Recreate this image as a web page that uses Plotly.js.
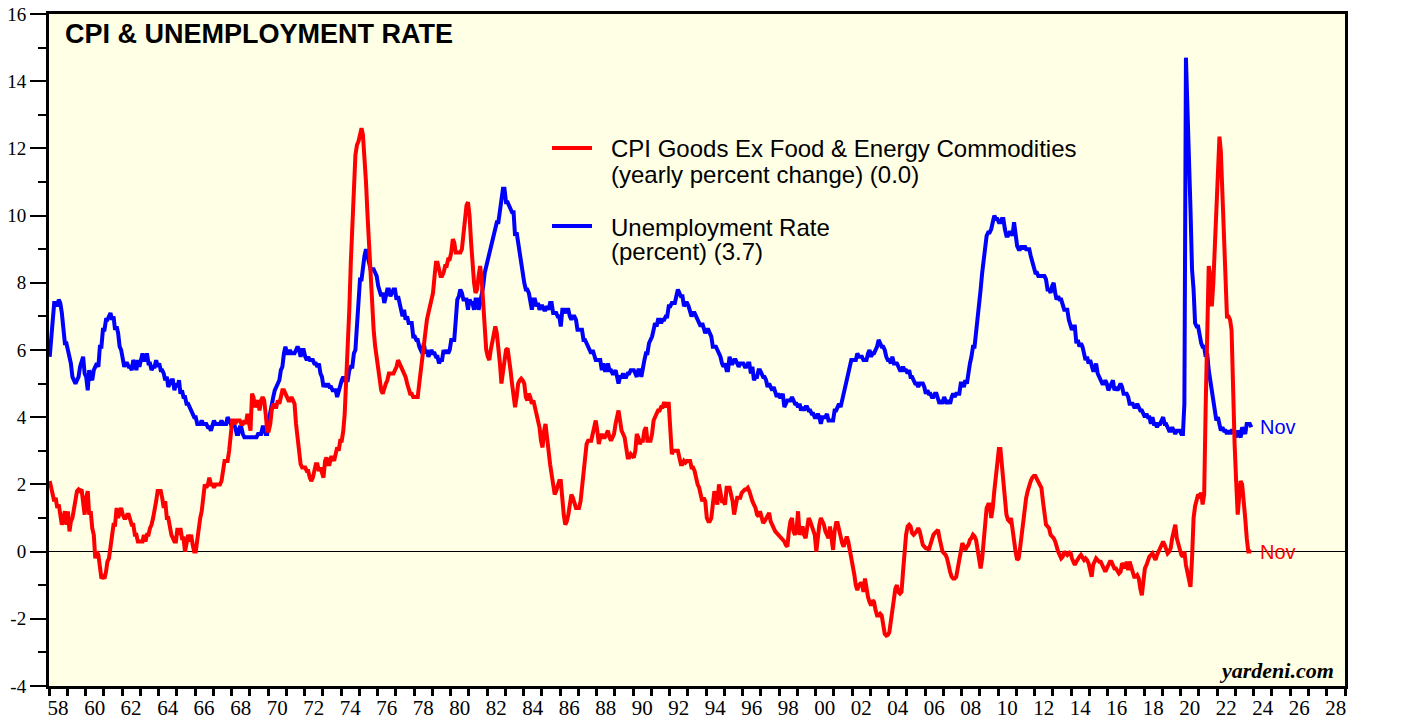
<!DOCTYPE html>
<html>
<head>
<meta charset="utf-8">
<script src="https://cdn.plot.ly/plotly-3.0.1.min.js"></script>
<style>
  html, body { margin: 0; padding: 0; background: #ffffff; }
  #chart { width: 1405px; height: 717px; }
</style>
</head>
<body>
<div id="chart"></div>
<script>
// ---------------- DATA (monthly, Jan 1958 .. Nov 2023) ----------------
const startYear = 1958;

// Unemployment Rate (percent)
const unemploymentRate = [
  5.8,6.4,6.7,7.4,7.4,7.3,7.5,7.4,7.1,6.7,6.2,6.2,
  6.0,5.9,5.6,5.2,5.1,5.0,5.1,5.2,5.5,5.7,5.8,5.3,
  5.2,4.8,5.4,5.2,5.1,5.4,5.5,5.6,5.5,6.1,6.1,6.6,
  6.6,6.9,6.9,7.0,7.1,6.9,7.0,6.6,6.7,6.5,6.1,6.0,
  5.8,5.5,5.6,5.6,5.5,5.5,5.4,5.7,5.6,5.4,5.7,5.5,
  5.7,5.9,5.7,5.7,5.9,5.6,5.6,5.4,5.5,5.5,5.7,5.5,
  5.6,5.4,5.4,5.3,5.1,5.2,4.9,5.0,5.1,5.1,4.8,5.0,
  4.9,5.1,4.7,4.8,4.6,4.6,4.4,4.4,4.3,4.2,4.1,4.0,
  4.0,3.8,3.8,3.8,3.9,3.8,3.8,3.8,3.7,3.7,3.6,3.8,
  3.9,3.8,3.8,3.8,3.8,3.9,3.8,3.8,3.8,4.0,3.9,3.8,
  3.7,3.8,3.7,3.5,3.5,3.7,3.7,3.5,3.4,3.4,3.4,3.4,
  3.4,3.4,3.4,3.4,3.4,3.5,3.5,3.5,3.7,3.7,3.5,3.5,
  3.9,4.2,4.4,4.6,4.8,4.9,5.0,5.1,5.4,5.5,5.9,6.1,
  5.9,5.9,6.0,5.9,5.9,5.9,6.0,6.1,6.0,5.8,6.0,6.0,
  5.8,5.7,5.8,5.7,5.7,5.7,5.6,5.6,5.5,5.6,5.3,5.2,
  4.9,5.0,4.9,5.0,4.9,4.9,4.8,4.8,4.8,4.6,4.8,4.9,
  5.1,5.2,5.1,5.1,5.1,5.4,5.5,5.5,5.9,6.0,6.6,7.2,
  8.1,8.1,8.6,8.8,9.0,8.8,8.6,8.4,8.4,8.4,8.3,8.2,
  7.9,7.7,7.6,7.7,7.4,7.6,7.8,7.8,7.6,7.7,7.8,7.8,
  7.5,7.6,7.4,7.2,7.0,7.2,6.9,7.0,6.8,6.8,6.8,6.4,
  6.4,6.3,6.3,6.1,6.0,5.9,6.2,5.9,6.0,5.8,5.9,6.0,
  5.9,5.9,5.8,5.8,5.6,5.7,5.7,6.0,5.9,6.0,5.9,6.0,
  6.3,6.3,6.3,6.9,7.5,7.6,7.8,7.7,7.5,7.5,7.5,7.2,
  7.5,7.4,7.4,7.2,7.5,7.5,7.2,7.4,7.6,7.9,8.3,8.5,
  8.6,8.9,9.0,9.3,9.4,9.6,9.8,9.8,10.1,10.4,10.8,10.8,
  10.4,10.4,10.3,10.2,10.1,10.1,9.4,9.5,9.2,8.8,8.5,8.3,
  8.0,7.8,7.8,7.7,7.4,7.2,7.5,7.5,7.3,7.4,7.2,7.3,
  7.3,7.2,7.2,7.3,7.2,7.4,7.4,7.1,7.1,7.1,7.0,7.0,
  6.7,7.2,7.2,7.1,7.2,7.2,7.0,6.9,7.0,7.0,6.9,6.6,
  6.6,6.6,6.6,6.3,6.3,6.2,6.1,6.0,5.9,6.0,5.8,5.7,
  5.7,5.7,5.7,5.4,5.6,5.4,5.4,5.6,5.4,5.4,5.3,5.3,
  5.4,5.2,5.0,5.2,5.2,5.3,5.2,5.2,5.3,5.3,5.4,5.4,
  5.4,5.3,5.2,5.4,5.4,5.2,5.5,5.7,5.9,5.9,6.2,6.3,
  6.4,6.6,6.8,6.7,6.9,6.9,6.8,6.9,6.9,7.0,7.0,7.3,
  7.3,7.4,7.4,7.4,7.6,7.8,7.7,7.6,7.6,7.3,7.4,7.4,
  7.3,7.1,7.0,7.1,7.1,7.0,6.9,6.8,6.7,6.8,6.6,6.5,
  6.6,6.6,6.5,6.4,6.1,6.1,6.1,6.0,5.9,5.8,5.6,5.5,
  5.6,5.4,5.4,5.8,5.6,5.6,5.7,5.7,5.6,5.5,5.6,5.6,
  5.6,5.5,5.5,5.6,5.6,5.3,5.5,5.1,5.2,5.2,5.4,5.4,
  5.3,5.2,5.2,5.1,4.9,5.0,4.9,4.8,4.9,4.7,4.6,4.7,
  4.6,4.6,4.7,4.3,4.4,4.5,4.5,4.5,4.6,4.5,4.4,4.4,
  4.3,4.4,4.2,4.3,4.2,4.3,4.3,4.2,4.2,4.1,4.1,4.0,
  4.0,4.1,4.0,3.8,4.0,4.0,4.0,4.1,3.9,3.9,3.9,3.9,
  4.2,4.2,4.3,4.4,4.3,4.5,4.6,4.9,5.0,5.3,5.5,5.7,
  5.7,5.7,5.7,5.9,5.8,5.8,5.8,5.7,5.7,5.7,5.9,6.0,
  5.8,5.9,5.9,6.0,6.1,6.3,6.2,6.1,6.1,6.0,5.8,5.7,
  5.7,5.6,5.8,5.6,5.6,5.6,5.5,5.4,5.4,5.5,5.4,5.4,
  5.3,5.4,5.2,5.2,5.1,5.0,5.0,4.9,5.0,5.0,5.0,4.9,
  4.7,4.8,4.7,4.7,4.6,4.6,4.7,4.7,4.5,4.4,4.5,4.4,
  4.6,4.5,4.4,4.5,4.4,4.6,4.7,4.6,4.7,4.7,4.7,5.0,
  5.0,4.9,5.1,5.0,5.4,5.6,5.8,6.1,6.1,6.5,6.8,7.3,
  7.8,8.3,8.7,9.0,9.4,9.5,9.5,9.6,9.8,10.0,9.9,9.9,
  9.8,9.8,9.9,9.9,9.6,9.4,9.4,9.5,9.5,9.4,9.8,9.3,
  9.1,9.0,9.0,9.1,9.0,9.1,9.0,9.0,9.0,8.8,8.6,8.5,
  8.3,8.3,8.2,8.2,8.2,8.2,8.2,8.1,7.8,7.8,7.7,7.9,
  8.0,7.7,7.5,7.6,7.5,7.5,7.3,7.2,7.2,7.2,6.9,6.7,
  6.6,6.7,6.7,6.2,6.3,6.1,6.2,6.1,5.9,5.7,5.8,5.6,
  5.7,5.5,5.4,5.4,5.6,5.3,5.2,5.1,5.0,5.0,5.1,5.0,
  4.8,4.9,5.0,5.1,4.8,4.9,4.8,4.9,5.0,4.9,4.7,4.7,
  4.7,4.6,4.4,4.4,4.4,4.3,4.3,4.4,4.3,4.2,4.2,4.1,
  4.0,4.1,4.0,4.0,3.8,4.0,3.8,3.8,3.7,3.8,3.8,3.9,
  4.0,3.8,3.8,3.7,3.6,3.6,3.7,3.6,3.5,3.6,3.6,3.6,
  3.5,3.5,4.4,14.7,13.2,11.0,10.2,8.4,7.8,6.8,6.7,6.7,
  6.4,6.2,6.1,6.1,5.8,5.9,5.4,5.1,4.7,4.5,4.2,3.9,
  4.0,3.8,3.6,3.7,3.6,3.6,3.5,3.6,3.5,3.6,3.6,3.5,
  3.4,3.6,3.5,3.4,3.7,3.6,3.5,3.8,3.8,3.8,3.7
];

// CPI Goods ex Food & Energy Commodities (yearly percent change)
const cpiCoreGoods = [
  2.1,1.9,1.6,1.5,1.6,1.3,1.4,1.1,0.8,1.0,1.2,0.8,
  1.2,0.6,0.9,1.0,1.3,1.5,1.8,1.85,1.8,1.85,1.5,1.1,
  1.6,1.8,1.1,1.2,0.7,0.5,-0.2,0.0,-0.1,-0.5,-0.8,-0.75,
  -0.8,-0.6,-0.3,-0.2,0.1,0.6,0.8,0.8,1.3,1.0,1.2,1.3,
  1.1,1.0,1.0,1.1,1.1,0.9,0.8,0.8,0.5,0.5,0.3,0.3,
  0.3,0.3,0.5,0.3,0.5,0.5,0.7,0.8,1.0,1.2,1.5,1.8,
  1.8,1.8,1.6,1.3,1.5,1.0,1.0,0.7,0.5,0.4,0.3,0.3,
  0.7,0.5,0.7,0.4,0.4,0.0,0.3,0.5,0.3,0.5,0.2,0.0,
  0.0,0.4,0.6,1.0,1.2,1.8,2.0,1.9,2.0,2.2,2.0,2.0,
  1.9,2.0,2.0,2.0,2.0,2.1,2.4,2.7,2.7,2.7,3.0,3.4,
  3.9,3.9,3.8,3.9,3.9,3.9,3.8,3.8,3.9,3.8,4.1,3.8,
  3.6,4.7,4.6,4.3,4.4,4.5,4.2,4.5,4.6,4.5,4.1,3.6,
  3.6,3.8,4.2,4.4,4.3,4.3,4.5,4.4,4.6,4.8,4.8,4.7,
  4.6,4.5,4.5,4.6,4.5,4.4,3.8,3.4,3.0,2.6,2.5,2.5,
  2.5,2.4,2.4,2.2,2.1,2.2,2.4,2.6,2.6,2.4,2.5,2.3,
  2.2,2.7,2.8,2.6,2.6,2.8,2.8,2.7,3.0,3.1,3.0,3.3,
  3.3,3.6,4.1,5.0,5.9,7.2,8.6,9.8,11.2,11.8,12.1,12.2,
  12.4,12.6,12.4,11.8,11.0,10.0,9.0,8.0,7.2,6.6,6.1,5.8,
  5.6,5.2,4.8,4.7,4.9,5.0,5.1,5.3,5.3,5.3,5.3,5.4,
  5.5,5.7,5.6,5.5,5.4,5.3,5.2,5.0,4.8,4.7,4.7,4.6,
  4.6,4.6,4.6,5.0,5.4,5.8,6.1,6.5,6.9,7.1,7.3,7.6,
  7.7,8.2,8.6,8.6,8.4,8.2,8.2,8.3,8.5,8.5,8.7,8.7,
  8.9,9.3,9.2,8.9,8.9,8.9,8.9,9.0,9.4,9.8,10.3,10.4,
  10.0,9.2,8.5,8.0,7.7,7.8,8.2,8.5,8.1,7.3,6.5,6.0,
  5.8,5.7,6.0,6.3,6.5,6.7,6.5,6.1,5.6,5.0,5.4,5.7,
  6.0,6.05,5.8,5.4,5.0,4.5,4.3,4.6,5.0,5.1,5.15,5.1,
  5.0,4.6,4.5,4.7,4.6,4.4,4.5,4.3,4.1,3.9,3.7,3.3,
  3.1,3.6,3.8,3.4,2.9,2.6,2.3,2.0,1.7,1.8,2.0,2.1,
  2.1,1.5,1.1,0.8,0.9,1.1,1.5,1.7,1.6,1.4,1.3,1.3,
  1.3,1.5,1.9,2.6,3.0,3.2,3.3,3.3,3.3,3.5,3.8,3.9,
  3.6,3.2,3.4,3.5,3.4,3.4,3.5,3.6,3.4,3.3,3.4,3.5,
  3.8,4.1,4.2,3.9,3.6,3.5,3.4,3.1,2.8,2.8,2.9,2.85,
  2.8,3.0,3.5,3.4,3.2,3.3,3.3,3.6,3.7,3.3,3.3,3.3,
  3.5,3.9,4.0,4.1,4.2,4.2,4.3,4.3,4.45,4.3,4.4,4.4,
  3.8,2.9,3.0,3.0,3.0,3.0,2.8,2.6,2.6,2.7,2.65,2.7,
  2.7,2.7,2.5,2.5,2.4,2.1,2.0,1.9,1.7,1.5,1.6,1.5,
  1.0,0.9,0.9,1.0,1.4,1.8,1.6,1.4,2.0,1.7,1.5,1.5,
  1.4,1.9,1.9,1.9,1.7,1.5,1.1,1.3,1.6,1.6,1.6,1.75,
  1.8,1.85,1.85,1.9,1.8,1.6,1.5,1.4,1.3,1.1,1.05,1.2,
  1.0,0.85,0.9,1.0,1.1,1.15,0.9,0.75,0.7,0.6,0.55,0.5,
  0.45,0.4,0.35,0.3,0.2,0.15,0.6,0.9,1.0,0.6,0.5,0.65,
  1.2,0.5,0.6,0.75,0.5,0.4,0.7,1.0,0.9,0.75,0.6,0.5,
  0.0,0.5,0.8,1.0,0.9,0.8,0.6,0.45,0.4,0.75,0.3,0.05,
  0.6,0.85,0.85,0.65,0.4,0.25,0.15,0.3,0.45,0.3,0.05,-0.05,
  -0.3,-0.7,-1.0,-1.15,-1.0,-0.95,-0.95,-1.2,-0.8,-1.1,-1.35,-1.5,
  -1.6,-1.45,-1.5,-1.75,-1.9,-1.9,-1.85,-1.9,-2.2,-2.45,-2.5,-2.48,
  -2.4,-2.1,-1.7,-1.5,-1.1,-1.0,-1.2,-1.25,-1.2,-0.6,0.0,0.5,
  0.75,0.8,0.75,0.55,0.5,0.55,0.6,0.7,0.6,0.4,0.2,0.15,
  0.1,0.1,0.05,0.2,0.35,0.5,0.55,0.6,0.65,0.4,0.2,0.0,
  -0.05,-0.1,-0.2,-0.5,-0.6,-0.75,-0.8,-0.8,-0.75,-0.5,-0.2,0.1,
  0.25,0.15,0.05,0.15,0.2,0.35,0.4,0.5,0.45,0.35,0.0,-0.3,
  -0.5,-0.2,0.2,0.9,1.3,1.4,1.4,1.0,1.3,1.8,2.3,2.7,
  3.05,3.05,2.6,2.0,1.4,1.1,0.95,0.9,1.0,0.6,0.3,0.0,
  -0.25,-0.2,0.1,0.5,0.9,1.3,1.6,1.8,2.0,2.1,2.2,2.25,
  2.25,2.15,2.05,2.0,1.9,1.5,1.0,0.8,0.75,0.7,0.5,0.45,
  0.4,0.3,0.1,0.0,-0.1,-0.2,-0.15,0.0,-0.05,-0.1,-0.05,0.0,
  -0.2,-0.3,-0.4,-0.3,-0.2,-0.15,-0.1,-0.2,-0.25,-0.2,-0.25,-0.35,
  -0.6,-0.75,-0.4,-0.25,-0.2,-0.25,-0.3,-0.3,-0.4,-0.5,-0.6,-0.5,
  -0.4,-0.3,-0.3,-0.4,-0.5,-0.5,-0.6,-0.65,-0.6,-0.35,-0.4,-0.5,
  -0.3,-0.55,-0.3,-0.5,-0.6,-0.75,-0.75,-0.7,-0.8,-1.1,-1.3,-0.9,
  -0.5,-0.4,-0.25,-0.15,-0.1,-0.05,-0.15,-0.25,-0.1,0.0,0.05,0.2,
  0.3,0.2,0.1,-0.05,0.0,0.1,0.4,0.6,0.8,0.4,0.2,0.05,
  -0.1,-0.15,0.0,-0.4,-0.6,-0.85,-1.05,-0.2,1.0,1.35,1.6,1.7,
  1.65,1.75,1.4,1.7,4.3,7.0,8.5,8.2,7.3,8.0,9.3,10.4,
  11.4,12.35,11.9,10.6,9.0,7.6,7.0,7.0,6.9,6.6,4.5,3.2,
  2.1,1.1,1.6,2.1,2.0,1.6,1.0,0.4,0.0,0.0,0.0
];

// axis labels
const yTickValues = [-4,-2,0,2,4,6,8,10,12,14,16];
const yTickText = yTickValues.map(v => String(v));   // plain hyphen minus, as in the original
const xLabelYears = [];
for (let y = 1958; y <= 2028; y += 2) xLabelYears.push(y);
const xTickText = xLabelYears.map(y => String(y % 100).padStart(2, '0'));

const latestMonth = 'Nov';
const cpiLabel = ['CPI Goods Ex Food &amp; Energy Commodities', '(yearly percent change) (0.0)'];
const unempLabel = ['Unemployment Rate', '(percent) (3.7)'];
const chartTitle = 'CPI &amp; UNEMPLOYMENT RATE';
const sourceText = 'yardeni.com';

// ---------------- BUILD ----------------
function monthDates(n) {
  const out = [];
  for (let i = 0; i < n; i++) {
    const y = startYear + Math.floor(i / 12);
    const m = (i % 12) + 1;
    out.push(y + '-' + String(m).padStart(2, '0') + '-15');
  }
  return out;
}

const SANS = 'Liberation Sans';
const SERIF = 'Liberation Serif';

const traces = [
  {
    x: monthDates(unemploymentRate.length), y: unemploymentRate,
    type: 'scatter', mode: 'lines', name: 'Unemployment Rate',
    line: { color: '#0000ff', width: 4 }, hoverinfo: 'skip'
  },
  {
    x: monthDates(cpiCoreGoods.length), y: cpiCoreGoods,
    type: 'scatter', mode: 'lines', name: 'CPI Goods Ex Food & Energy Commodities',
    line: { color: '#ff0000', width: 4 }, hoverinfo: 'skip'
  }
];

const W = 1405, H = 717, ML = 49, MR = 60, MT = 14, MB = 31;
const PW = W - ML - MR, PH = H - MT - MB;
const px = x => (x - ML) / PW;
const py = y => (H - MB - y) / PH;

const yAxisCommon = {
  range: [-4, 16], tickmode: 'array', tickvals: yTickValues, ticktext: yTickText,
  ticks: 'outside', ticklen: 16, tickwidth: 2, tickcolor: '#000',
  minor: { tickmode: 'linear', tick0: -3, dtick: 2, ticks: 'outside', ticklen: 8, tickwidth: 2, tickcolor: '#000', showgrid: false },
  tickfont: { family: SERIF, size: 19, color: '#000' },
  showgrid: false, fixedrange: true
};

const lastIdx = unemploymentRate.length - 1;

const layout = {
  width: W, height: H,
  margin: { l: ML, r: MR, t: MT, b: MB, pad: 0 },
  paper_bgcolor: '#ffffff', plot_bgcolor: '#ffffe6',
  showlegend: false,
  xaxis: {
    type: 'date', range: ['1958-01-01', '2029-01-01'],
    tickmode: 'array',
    tickvals: xLabelYears.map(y => y + '-07-02'),
    ticktext: xTickText,
    ticks: 'outside', ticklen: 1, tickcolor: 'rgba(0,0,0,0)',
    minor: { tickmode: 'linear', tick0: '1958-01-01', dtick: 'M12', ticks: 'outside', ticklen: 7, tickwidth: 3, tickcolor: '#000', showgrid: false },
    tickfont: { family: SERIF, size: 21, color: '#000' },
    showgrid: false, zeroline: false,
    showline: true, linewidth: 3, linecolor: '#000', mirror: true,
    fixedrange: true
  },
  yaxis: Object.assign({}, yAxisCommon, {
    side: 'left',
    showline: true, linewidth: 3, linecolor: '#000', mirror: true,
    zeroline: true, zerolinecolor: '#000', zerolinewidth: 1.5
  }),
  yaxis2: Object.assign({}, yAxisCommon, {
    overlaying: 'y', side: 'right', anchor: 'x',
    showline: false, zeroline: false
  }),
  shapes: [
    { type: 'line', xref: 'paper', yref: 'paper', x0: px(552), x1: px(592), y0: py(148), y1: py(148), line: { color: '#ff0000', width: 4 } },
    { type: 'line', xref: 'paper', yref: 'paper', x0: px(552), x1: px(592), y0: py(226), y1: py(226), line: { color: '#0000ff', width: 4 } }
  ],
  annotations: [
    { xref: 'paper', yref: 'paper', x: px(63), y: py(34), xanchor: 'left', yanchor: 'middle', showarrow: false,
      text: '<b>' + chartTitle + '</b>', font: { family: SANS, size: 27, color: '#000' } },
    { xref: 'paper', yref: 'paper', x: px(609), y: py(149), xanchor: 'left', yanchor: 'middle', showarrow: false,
      text: cpiLabel[0], font: { family: SANS, size: 24, color: '#000' } },
    { xref: 'paper', yref: 'paper', x: px(609), y: py(174), xanchor: 'left', yanchor: 'middle', showarrow: false,
      text: cpiLabel[1], font: { family: SANS, size: 24, color: '#000' } },
    { xref: 'paper', yref: 'paper', x: px(609), y: py(227), xanchor: 'left', yanchor: 'middle', showarrow: false,
      text: unempLabel[0], font: { family: SANS, size: 24, color: '#000' } },
    { xref: 'paper', yref: 'paper', x: px(609), y: py(252), xanchor: 'left', yanchor: 'middle', showarrow: false,
      text: unempLabel[1], font: { family: SANS, size: 24, color: '#000' } },
    { xref: 'x', yref: 'y', x: '2024-03-20', y: unemploymentRate[lastIdx], xanchor: 'left', yanchor: 'middle', showarrow: false,
      text: latestMonth, font: { family: SANS, size: 20, color: '#0000ff' } },
    { xref: 'x', yref: 'y', x: '2024-03-20', y: cpiCoreGoods[cpiCoreGoods.length - 1], xanchor: 'left', yanchor: 'middle', showarrow: false,
      text: latestMonth, font: { family: SANS, size: 20, color: '#ff0000' } },
    { xref: 'paper', yref: 'paper', x: px(1336), y: py(670), xanchor: 'right', yanchor: 'middle', showarrow: false,
      text: '<b><i>' + sourceText + '</i></b>', font: { family: SERIF, size: 22, color: '#000' } }
  ]
};

Plotly.newPlot('chart', traces, layout, { displayModeBar: false, staticPlot: true });
</script>
</body>
</html>
